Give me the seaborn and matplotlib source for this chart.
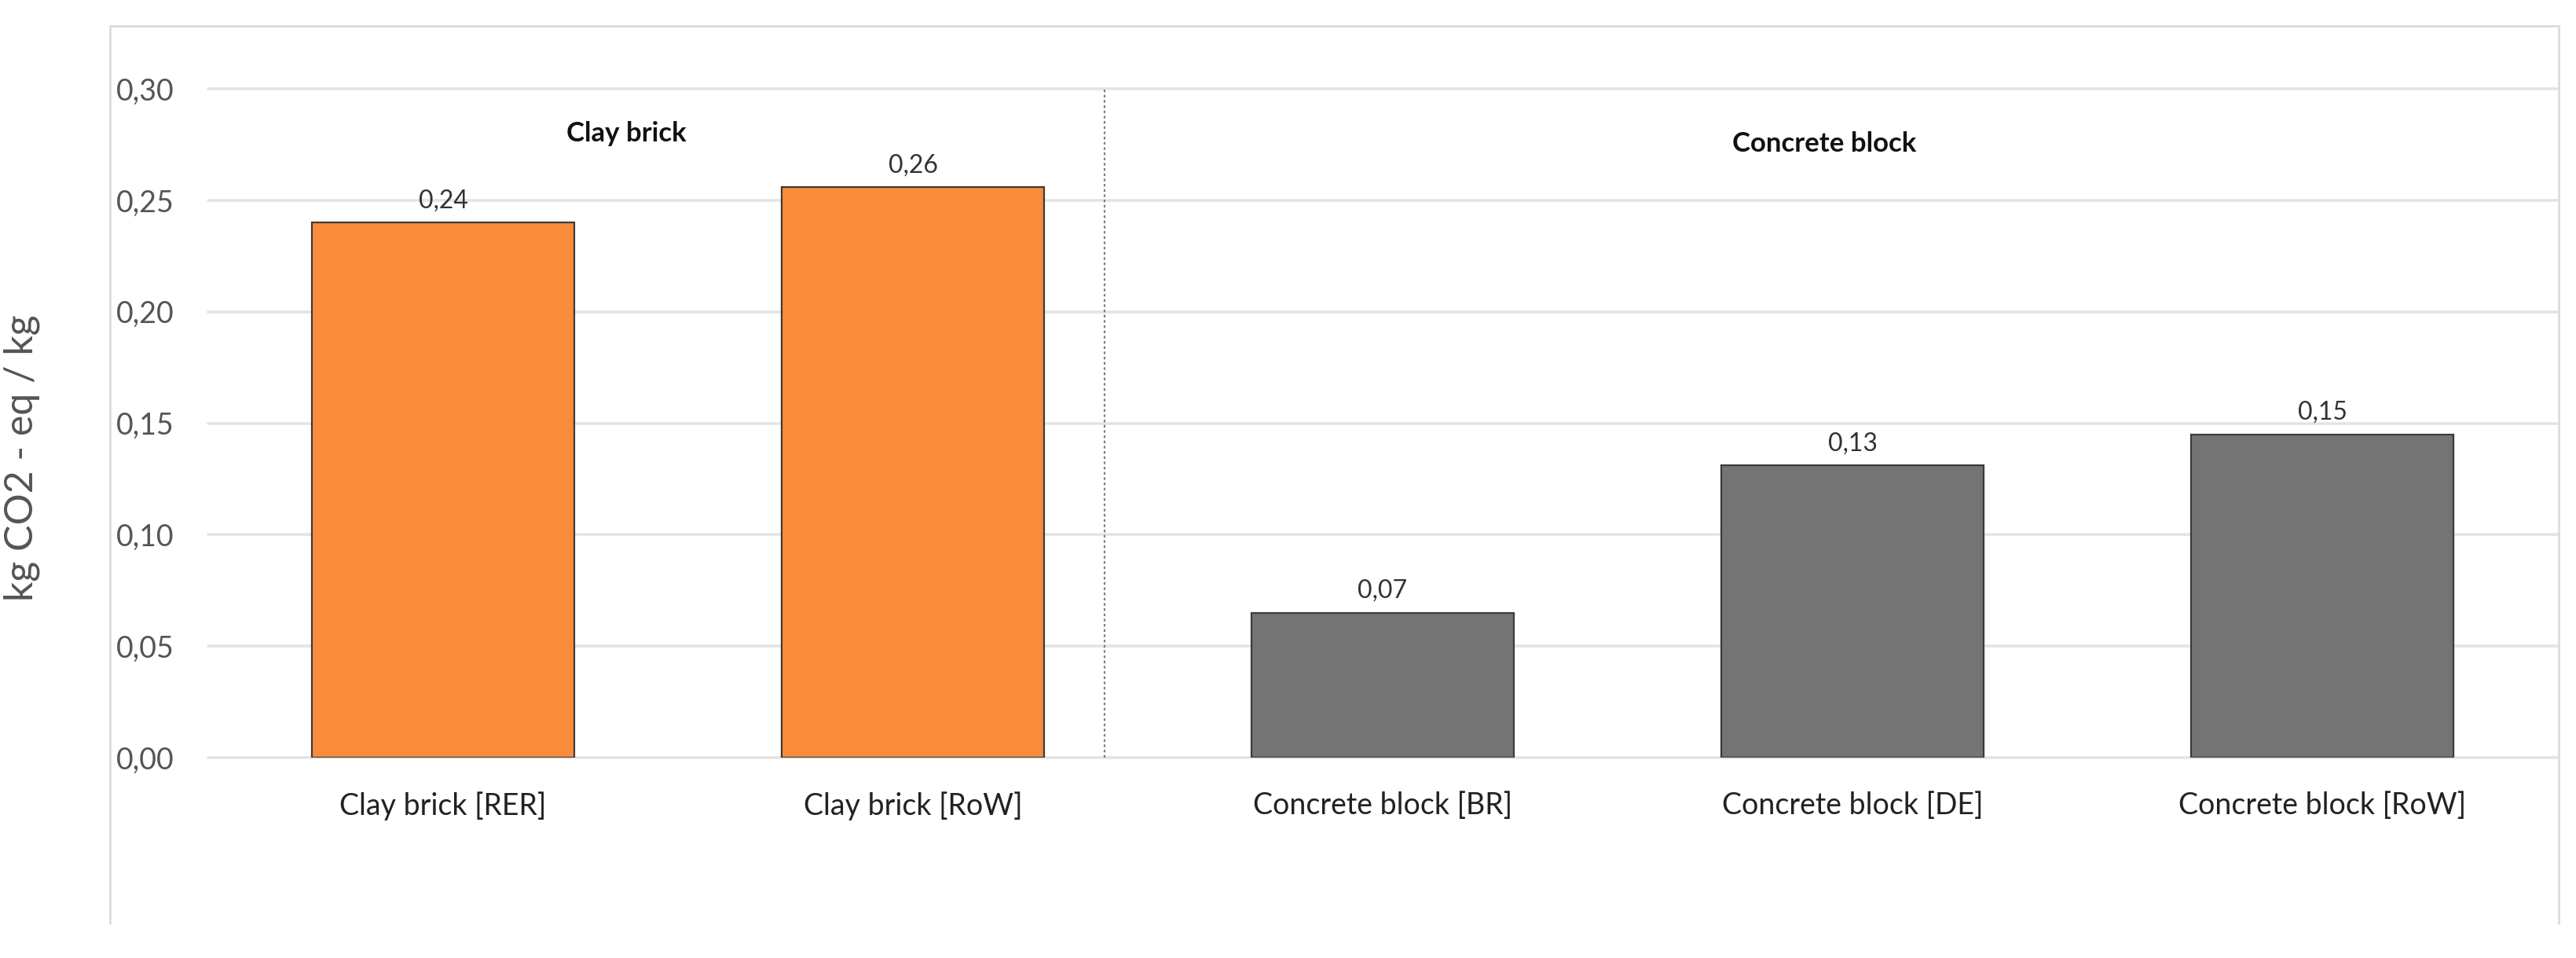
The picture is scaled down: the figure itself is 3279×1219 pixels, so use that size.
import matplotlib
matplotlib.use("Agg")
import matplotlib.pyplot as plt
from matplotlib.lines import Line2D
import seaborn as sns
import pandas as pd

# data
products = ["Clay brick [RER]", "Clay brick [RoW]",
            "Concrete block [BR]", "Concrete block [DE]", "Concrete block [RoW]"]
values = [0.240, 0.256, 0.065, 0.131, 0.145]
value_labels = ["0,24", "0,26", "0,07", "0,13", "0,15"]
groups = ["Clay brick", "Concrete block"]
group_x = [0.39, 2.94]
group_y = [0.280, 0.2753]
y_ticks = [0.00, 0.05, 0.10, 0.15, 0.20, 0.25, 0.30]
y_ticklabels = ["0,00", "0,05", "0,10", "0,15", "0,20", "0,25", "0,30"]
bar_colors = ["#F98C3A", "#F98C3A", "#747474", "#747474", "#747474"]

df = pd.DataFrame({"product": products, "value": values})

sns.set_style("white")
plt.rcParams["font.family"] = ["Lato", "DejaVu Sans"]

W, H = 3279, 1219
fig = plt.figure(figsize=(W / 100, H / 100), dpi=100)
ax = fig.add_axes([265 / W, 1 - 964 / H, (3255 - 265) / W, (964 - 113) / H])

sns.barplot(data=df, x="product", y="value", hue="product", palette=bar_colors,
            width=0.557, edgecolor="#3b3b3b", linewidth=1.6, legend=False,
            saturation=1, ax=ax, zorder=3)

ax.set_xlim(-0.5, 4.5)
ax.set_ylim(0, 0.30)

# gridlines drawn by hand so the top one is not clipped
for t in y_ticks:
    ax.axhline(t, color="#E4E4E4", lw=2.6, zorder=1, clip_on=False)

for s in ax.spines.values():
    s.set_visible(False)

ax.set_yticks(y_ticks)
ax.set_yticklabels(y_ticklabels)
ax.tick_params(axis="y", length=0, pad=31, labelsize=27, labelcolor="#555555")
ax.tick_params(axis="x", length=0, pad=31, labelsize=27, labelcolor="#222222")
ax.set_xlabel("")
ax.set_ylabel("kg CO2 - eq / kg", fontsize=36, color="#555555")
ax.yaxis.set_label_coords(-0.0716, 0.448)

# value labels above bars
for i, (v, lab) in enumerate(zip(values, value_labels)):
    ax.annotate(lab, (i, v), xytext=(0, 20), textcoords="offset points",
                ha="center", va="center", fontsize=23, color="#333333")

# group labels
for g, gx, gy in zip(groups, group_x, group_y):
    ax.text(gx, gy, g, ha="center", va="center", fontsize=25,
            fontweight="bold", color="#111111")

# dotted separator between groups
ax.vlines(1.408, 0, 0.30, colors="#808080", linestyles=(0, (1.5, 1.5)),
          lw=1.6, zorder=2)

# light outer frame (open at bottom)
fx0, fx1 = 140 / W, 3257 / W
fy0, fy1 = 1 - 1175 / H, 1 - 33 / H
for xs, ys in [([fx0, fx0], [fy0, fy1]), ([fx0, fx1], [fy1, fy1]),
               ([fx1, fx1], [fy1, fy0])]:
    fig.add_artist(Line2D(xs, ys, transform=fig.transFigure,
                          color="#DCDCDC", lw=2))

fig.savefig("out.png", dpi=100)
